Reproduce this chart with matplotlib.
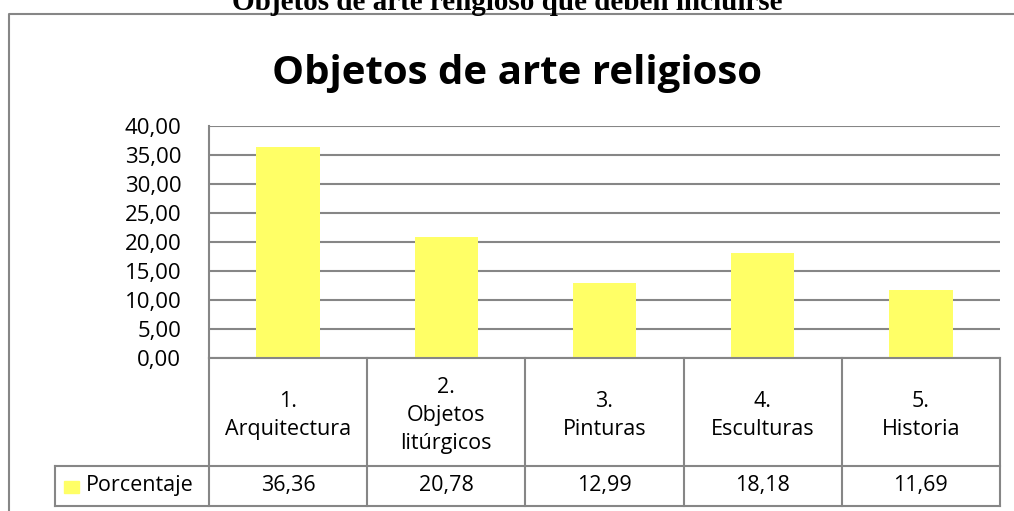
import matplotlib.pyplot as plt
import matplotlib

matplotlib.rcParams['font.family'] = ['Open Sans', 'DejaVu Sans']

# datos
categorias = ['1.\nArquitectura', '2.\nObjetos\nlitúrgicos', '3.\nPinturas',
              '4.\nEsculturas', '5.\nHistoria']
porcentaje = [36.36, 20.78, 12.99, 18.18, 11.69]
yticks = [0, 5, 10, 15, 20, 25, 30, 35, 40]
serie = 'Porcentaje'

amarillo = '#FFFF66'
gris = '#868686'

fig = plt.figure(figsize=(10.14, 5.11), dpi=100)

# titulo cortado arriba (fuera del marco)
fig.text(0.5, 1 - 10 / 511, 'Objetos de arte religioso que deben incluirse',
         ha='center', va='baseline', fontsize=21, fontweight='bold',
         family='Liberation Serif')

# marco exterior
fig.add_artist(plt.Line2D([9 / 1014, 9 / 1014, 1.0], [0, 1 - 14 / 511, 1 - 14 / 511],
                          color=gris, lw=1.5, transform=fig.transFigure))

fig.text(517 / 1014, 1 - 84 / 511, 'Objetos de arte religioso', ha='center',
         va='baseline', fontsize=29, fontweight='bold')

ax = fig.add_axes([209 / 1014, 1 - 358 / 511, 791 / 1014, 232 / 511])
x = range(len(porcentaje))
ax.bar(x, porcentaje, width=0.4, color=amarillo, zorder=2)
ax.set_xlim(-0.5, len(porcentaje) - 0.5)
ax.set_ylim(0, 40)
ax.set_yticks(yticks)
ax.set_yticklabels([f'{v:.2f}'.replace('.', ',') for v in yticks], fontsize=16)
ax.yaxis.grid(True, color=gris, lw=1.5, zorder=0)
ax.tick_params(axis='y', length=0, pad=20)
ax.set_xticks([])
for s in ['top', 'right', 'bottom']:
    ax.spines[s].set_visible(False)
ax.spines['left'].set_color(gris)
ax.spines['left'].set_linewidth(1.5)

# tabla de datos debajo
tr = ax.get_xaxis_transform()
y1 = -108 / 232
y2 = -148 / 232
xl = -0.5 - 154 / 158.2
n = len(porcentaje)
for i in range(n + 1):
    ax.plot([i - 0.5, i - 0.5], [0, y2], color=gris, lw=1.5, transform=tr, clip_on=False)
ax.plot([-0.5, n - 0.5], [0, 0], color=gris, lw=1.5, transform=tr, clip_on=False)
for yy in [y1, y2]:
    ax.plot([xl, n - 0.5], [yy, yy], color=gris, lw=1.5, transform=tr, clip_on=False)
ax.plot([xl, xl], [y1, y2], color=gris, lw=1.5, transform=tr, clip_on=False)

for i, (c, v) in enumerate(zip(categorias, porcentaje)):
    ax.text(i, y1 / 2 - 0.015, c, ha='center', va='center', fontsize=15.5,
            transform=tr, linespacing=1.42)
    ax.text(i, (y1 + y2) / 2, f'{v:.2f}'.replace('.', ','), ha='center',
            va='center', fontsize=15.5, transform=tr)

ax.add_patch(plt.Rectangle((xl + 0.055, y1 + (y2 - y1) * 0.38), 0.095, (y2 - y1) * 0.3,
                           color=amarillo, transform=tr, clip_on=False))
ax.text(xl + 0.195, (y1 + y2) / 2, serie, ha='left', va='center', fontsize=15.5,
        transform=tr)

plt.savefig('out.png', dpi=100)
